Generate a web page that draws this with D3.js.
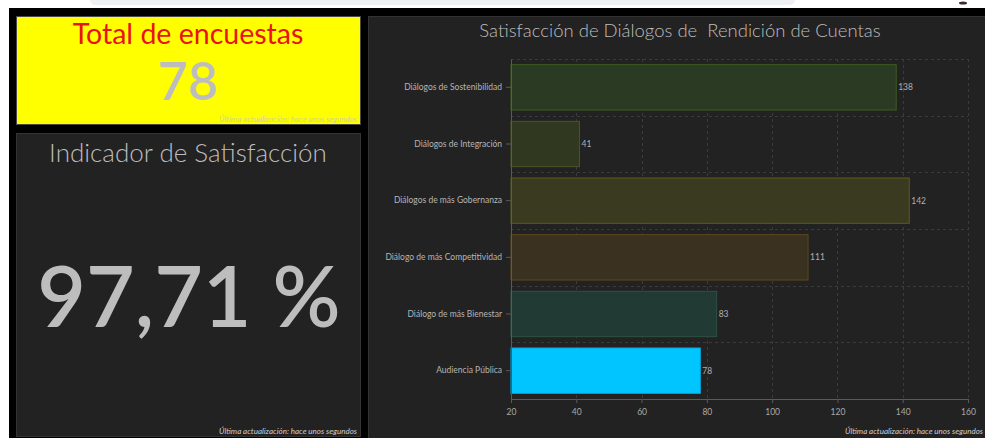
<!DOCTYPE html>
<html><head><meta charset="utf-8">
<script src="https://cdn.jsdelivr.net/npm/d3@7/dist/d3.min.js"></script>
<style>
html,body{margin:0;padding:0;background:#fff;overflow:hidden;}
svg{display:block;}
text{font-family:Lato,"Open Sans",sans-serif;}
</style></head>
<body>
<script>
const categories = ["Diálogos de Sostenibilidad","Diálogos de Integración","Diálogos de más Gobernanza","Diálogo de más Competitividad","Diálogo de más Bienestar","Audiencia Pública"];
const values = [138, 41, 142, 111, 83, 78];
const xTicks = [20, 40, 60, 80, 100, 120, 140, 160];
const totalEncuestas = 78;
const indicador = "97,71 %";
const barFills = ["#2b3a22","#30381f","#3a3a21","#3a3121","#213a33","#00c5ff"];
const barStrokes = ["#3f5c1f","#4a5624","#5a5a1e","#5c4820","#2c5244","#0aa8de"];

const W = 985, H = 438;
const svg = d3.select("body").append("svg").attr("width", W).attr("height", H);

// page background
svg.append("rect").attr("width", W).attr("height", H).attr("fill", "#ffffff");
svg.append("rect").attr("x", 90).attr("y", -6).attr("width", 705).attr("height", 11).attr("rx", 5).attr("fill", "#eef0f3");
svg.append("ellipse").attr("cx", 963).attr("cy", 3).attr("rx", 4).attr("ry", 1.5).attr("fill", "#3a2a2a");
svg.append("rect").attr("x", 9).attr("y", 8).attr("width", W - 9).attr("height", H - 8).attr("fill", "#000");

// Panel 1: yellow
svg.append("rect").attr("x", 16.5).attr("y", 16.5).attr("width", 344).attr("height", 108).attr("fill", "#ffff00").attr("stroke", "#4a4a4a");
svg.append("text").attr("x", 188).attr("y", 44).attr("text-anchor", "middle").attr("font-size", 28.5).attr("fill", "#e8131b").text("Total de encuestas");
svg.append("text").attr("x", 188).attr("y", 100).attr("text-anchor", "middle").attr("font-size", 52).attr("font-family", "'Open Sans', sans-serif").attr("font-weight", 600).attr("fill", "#bdbdbd").text(totalEncuestas);
svg.append("text").attr("x", 357).attr("y", 122).attr("text-anchor", "end").attr("font-size", 8).attr("font-style", "italic").attr("fill", "#d2d29a").text("Última actualización: hace unos segundos");

// Panel 2: indicator
svg.append("rect").attr("x", 16.5).attr("y", 133.5).attr("width", 344).attr("height", 303).attr("fill", "#222222").attr("stroke", "#333");
svg.append("text").attr("x", 188).attr("y", 162).attr("text-anchor", "middle").attr("font-size", 26).attr("font-weight", 300).attr("fill", "#bdbdbd").text("Indicador de Satisfacción");
svg.append("text").attr("x", 189).attr("y", 327).attr("text-anchor", "middle").attr("font-size", 84).attr("font-family", "'Open Sans', sans-serif").attr("font-weight", 600).attr("fill", "#bdbdbd").text(indicador);
svg.append("text").attr("x", 357).attr("y", 434).attr("text-anchor", "end").attr("font-size", 8).attr("font-style", "italic").attr("fill", "#cfcfcf").text("Última actualización: hace unos segundos");

// Panel 3: chart
svg.append("rect").attr("x", 368.5).attr("y", 16.5).attr("width", 630).attr("height", 425).attr("fill", "#222222").attr("stroke", "#333");
svg.append("text").attr("x", 680).attr("y", 37).attr("text-anchor", "middle").attr("font-size", 18.5).attr("font-weight", 300).attr("fill", "#bdbdbd").text("Satisfacción de Diálogos de\u00a0 Rendición de Cuentas");
svg.append("text").attr("x", 983).attr("y", 434).attr("text-anchor", "end").attr("font-size", 8).attr("font-style", "italic").attr("fill", "#cfcfcf").text("Última actualización: hace unos segundos");

const x = d3.scaleLinear().domain([20, 160]).range([511, 968]);
const y = d3.scaleBand().domain(categories).range([59, 399]).paddingInner(0.2).paddingOuter(0.1);
const step = y.step();

const g = svg.append("g");
// grid
g.selectAll(".vg").data(xTicks.slice(1)).join("line")
  .attr("x1", d => Math.round(x(d)) + 0.5).attr("x2", d => Math.round(x(d)) + 0.5)
  .attr("y1", 59).attr("y2", 399)
  .attr("stroke", "#3b3b3b").attr("stroke-dasharray", "3,3");
g.selectAll(".hg").data(categories).join("line")
  .attr("x1", 511).attr("x2", 968)
  .attr("y1", d => Math.round(y(d) - step * 0.1) + 0.5).attr("y2", d => Math.round(y(d) - step * 0.1) + 0.5)
  .attr("stroke", "#3b3b3b").attr("stroke-dasharray", "3,3");

// bars
g.selectAll(".bar").data(categories).join("rect")
  .attr("x", x(20)).attr("y", d => y(d))
  .attr("width", (d, i) => x(values[i]) - x(20)).attr("height", y.bandwidth())
  .attr("fill", (d, i) => barFills[i]).attr("stroke", (d, i) => barStrokes[i]).attr("stroke-width", 1);

// value labels
g.selectAll(".vl").data(categories).join("text")
  .attr("x", (d, i) => x(values[i]) + 2).attr("y", d => y(d) + y.bandwidth() / 2 + 3)
  .attr("font-size", 8.5).attr("fill", "#b0b0b0").text((d, i) => values[i]);

// axes
const xAxis = d3.axisBottom(x).tickValues(xTicks).tickSize(4).tickPadding(6);
const xa = svg.append("g").attr("transform", "translate(0,399)").call(xAxis);
xa.select(".domain").attr("stroke", "#5a5a5a");
xa.selectAll(".tick line").attr("stroke", "#5a5a5a");
xa.selectAll(".tick text").attr("fill", "#aaaaaa").attr("font-size", 8.5).attr("font-family", "Lato, sans-serif");

const yAxis = d3.axisLeft(y).tickSize(5).tickSizeOuter(0).tickPadding(4);
const ya = svg.append("g").attr("transform", "translate(511,0)").call(yAxis);
ya.select(".domain").attr("stroke", "#5a5a5a");
ya.selectAll(".tick line").attr("stroke", "#5a5a5a");
ya.selectAll(".tick text").attr("fill", "#b5b5b5").attr("font-size", 8.5).attr("font-family", "Lato, sans-serif");
</script>
</body></html>
